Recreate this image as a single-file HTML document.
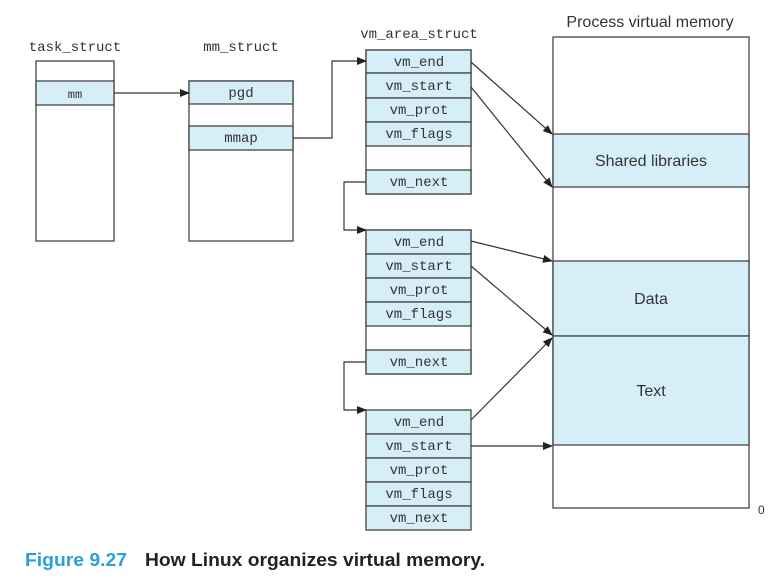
<!DOCTYPE html>
<html><head><meta charset="utf-8"><style>
html,body{margin:0;padding:0;background:#fff;}
svg{display:block;}
.m{font-family:"Liberation Mono",monospace;font-size:14px;fill:#333;text-anchor:middle;}
.s{font-family:"Liberation Sans",sans-serif;font-size:16px;fill:#333;text-anchor:middle;}
</style></head><body>
<svg width="782" height="583" viewBox="0 0 782 583" xmlns="http://www.w3.org/2000/svg">
<defs><marker id="a" markerWidth="10" markerHeight="8" refX="9" refY="4" orient="auto" markerUnits="userSpaceOnUse"><path d="M0,0 L10,4 L0,8 z" fill="#222"/></marker></defs>
<g stroke="#444" stroke-width="1.3">
<rect x="36" y="61" width="78" height="180" fill="#fff"/>
<rect x="36" y="81" width="78" height="24" fill="#d6eef8"/>
<rect x="189" y="81" width="104" height="160" fill="#fff"/>
<rect x="189" y="81" width="104" height="23" fill="#d6eef8"/>
<rect x="189" y="126" width="104" height="24" fill="#d6eef8"/>
<rect x="366" y="50" width="105" height="144" fill="#fff"/>
<rect x="366" y="50" width="105" height="23" fill="#d6eef8"/>
<rect x="366" y="73" width="105" height="25" fill="#d6eef8"/>
<rect x="366" y="98" width="105" height="24" fill="#d6eef8"/>
<rect x="366" y="122" width="105" height="24" fill="#d6eef8"/>
<rect x="366" y="170" width="105" height="24" fill="#d6eef8"/>
<rect x="366" y="230" width="105" height="144" fill="#fff"/>
<rect x="366" y="230" width="105" height="24" fill="#d6eef8"/>
<rect x="366" y="254" width="105" height="24" fill="#d6eef8"/>
<rect x="366" y="278" width="105" height="24" fill="#d6eef8"/>
<rect x="366" y="302" width="105" height="24" fill="#d6eef8"/>
<rect x="366" y="350" width="105" height="24" fill="#d6eef8"/>
<rect x="366" y="410" width="105" height="24" fill="#d6eef8"/>
<rect x="366" y="434" width="105" height="24" fill="#d6eef8"/>
<rect x="366" y="458" width="105" height="24" fill="#d6eef8"/>
<rect x="366" y="482" width="105" height="24" fill="#d6eef8"/>
<rect x="366" y="506" width="105" height="24" fill="#d6eef8"/>
<rect x="553" y="37" width="196" height="471" fill="#fff"/>
<rect x="553" y="134" width="196" height="53" fill="#d6eef8"/>
<rect x="553" y="261" width="196" height="75" fill="#d6eef8"/>
<rect x="553" y="336" width="196" height="109" fill="#d6eef8"/>
</g>
<g stroke="#333" stroke-width="1.2" fill="none" marker-end="url(#a)">
<path d="M114,93 H189"/>
<path d="M293,138 H332 V61 H366"/>
<path d="M366,182 H344 V230 H366"/>
<path d="M366,362 H344 V410 H366"/>
<path d="M471,62 L552,134"/>
<path d="M471,87 L552,187"/>
<path d="M471,241 L552,261"/>
<path d="M471,266 L552,335"/>
<path d="M471,420 L552,338"/>
<path d="M471,446 L552,446"/>
</g>
<text class="m" x="75" y="51">task_struct</text>
<text class="m" x="241" y="51">mm_struct</text>
<text class="m" x="419" y="38">vm_area_struct</text>
<text class="s" x="650" y="27">Process virtual memory</text>
<text class="m" x="75" y="98" style="font-size:12px">mm</text>
<text class="m" x="241" y="97">pgd</text>
<text class="m" x="241" y="142">mmap</text>
<g class="m">
<text x="419" y="66">vm_end</text><text x="419" y="90">vm_start</text><text x="419" y="114">vm_prot</text><text x="419" y="138">vm_flags</text><text x="419" y="186">vm_next</text>
<text x="419" y="246">vm_end</text><text x="419" y="270">vm_start</text><text x="419" y="294">vm_prot</text><text x="419" y="318">vm_flags</text><text x="419" y="366">vm_next</text>
<text x="419" y="426">vm_end</text><text x="419" y="450">vm_start</text><text x="419" y="474">vm_prot</text><text x="419" y="498">vm_flags</text><text x="419" y="522">vm_next</text>
</g>
<text class="s" x="651" y="166">Shared libraries</text>
<text class="s" x="651" y="304">Data</text>
<text class="s" x="651" y="396">Text</text>
<text x="758" y="514" style="font-family:'Liberation Sans',sans-serif;font-size:12px;fill:#333">0</text>
<text x="25" y="566" textLength="102" lengthAdjust="spacingAndGlyphs" style="font-family:'Liberation Sans',sans-serif;font-size:18px;font-weight:bold;fill:#2a9fd8">Figure 9.27</text>
<text x="145" y="566" textLength="340" lengthAdjust="spacingAndGlyphs" style="font-family:'Liberation Sans',sans-serif;font-size:18px;font-weight:bold;fill:#222">How Linux organizes virtual memory.</text>
</svg>
</body></html>
